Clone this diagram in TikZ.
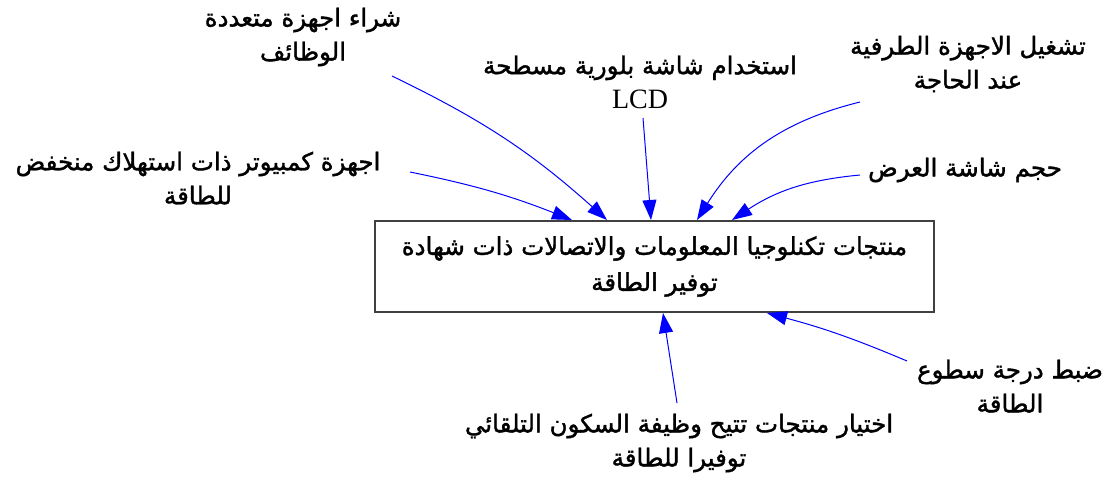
\documentclass[tikz,border=0pt]{standalone}
\usepackage{fontspec}
\setmainfont{Liberation Serif}
\newfontfamily\arabicfont[Script=Arabic,FakeBold=1.5]{DejaVu Sans}
\TeXXeTstate=1
\usetikzlibrary{arrows.meta}
\tikzset{
  lbl/.style={align=center, font=\arabicfont\fontsize{24.5}{34}\selectfont, inner sep=0pt},
  arr/.style={draw=blue, line width=1pt, -{Triangle[length=20pt,width=14pt]}},
  mainbox/.style={draw=black!75, line width=1.5pt, minimum width=559pt, minimum height=91pt, inner sep=0pt, align=center, font=\arabicfont\fontsize{24.5}{36}\selectfont}
}
\begin{document}
\begin{tikzpicture}[x=1pt,y=-1pt]
\useasboundingbox (0,0) rectangle (1113,480);
\node[mainbox] (box) at (654.5,266.5) {\beginR منتجات تكنلوجيا المعلومات والاتصالات ذات شهادة\endR\\\beginR توفير الطاقة\endR};

\node[lbl] (t1) at (303,37) {\beginR شراء اجهزة متعددة\endR\\\beginR الوظائف\endR};
\node[lbl] (t2) at (640,82) {\beginR استخدام شاشة بلورية مسطحة\endR\\{\rmfamily\fontsize{28}{34}\selectfont LCD}};
\node[lbl] (t3) at (968,64) {\beginR تشغيل الاجهزة الطرفية\endR\\\beginR عند الحاجة\endR};
\node[lbl] (t4) at (198,178) {\beginR اجهزة كمبيوتر ذات استهلاك منخفض\endR\\\beginR للطاقة\endR};
\node[lbl] (t5) at (965,170) {\beginR حجم شاشة العرض\endR};
\node[lbl] (t6) at (1010,386) {\beginR ضبط درجة سطوع\endR\\\beginR الطاقة\endR};
\node[lbl] (t7) at (679,443) {\beginR اختيار منتجات تتيح وظيفة السكون التلقائي\endR\\\beginR توفيرا للطاقة\endR};

\coordinate (s1) at (392,76);
\coordinate (s2) at (410,172);
\coordinate (s3) at (643,118);
\coordinate (s4) at (860,102);
\coordinate (s5) at (860,175);
\coordinate (s6) at (907,361);
\coordinate (s7) at (677,403);

\coordinate (e1) at (607,220);
\coordinate (e2) at (572,220);
\coordinate (e3) at (651,220);
\coordinate (e4) at (697,220);
\coordinate (e5) at (732,220);
\coordinate (e6) at (767,313);
\coordinate (e7) at (663,313);

\draw[arr] (s1) to[bend left=8] (e1);
\draw[arr] (s2) to[bend left=5] (e2);
\draw[arr] (s3) -- (e3);
\draw[arr] (s4) to[bend right=22] (e4);
\draw[arr] (s5) to[bend right=14] (e5);
\draw[arr] (s6) to[bend right=4] (e6);
\draw[arr] (s7) -- (e7);
\end{tikzpicture}
\end{document}
